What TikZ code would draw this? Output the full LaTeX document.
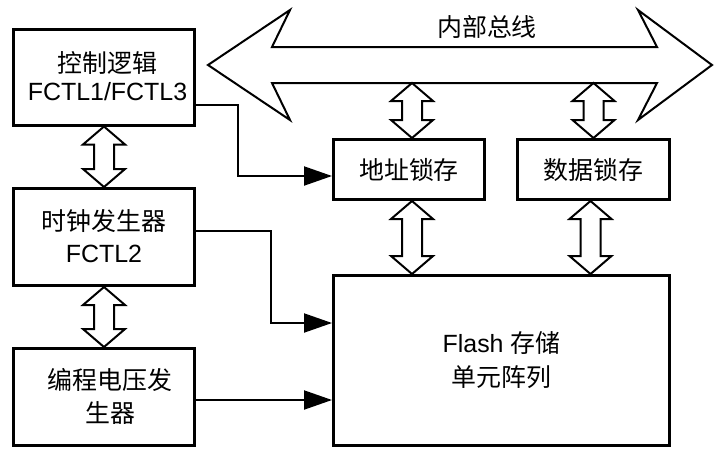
\documentclass[tikz,border=0pt]{standalone}
\usepackage{fontspec}
\setmainfont{Liberation Sans}
\newfontfamily\cjk{Noto Sans CJK SC}
\usetikzlibrary{arrows.meta,calc}
\newcommand\fixln[1]{\raisebox{0pt}[15pt][1pt]{#1}}
\tikzset{
  box/.style={draw, line width=2.25pt, inner sep=0pt, align=center},
  dbl/.style={draw, line width=1.5pt, fill=white, line join=miter},
  conn/.style={line width=1.5pt, -{Triangle[length=21pt,width=14.25pt]}},
  bus/.style={draw, line width=1.5pt, line join=miter, fill=white},
}
\newcommand\vdblarrow[2]{%
  \draw[dbl] let \p1=(#1), \p2=(#2) in
    (\x1,\y1) -- (\x1+15.75pt,\y1-13.5pt) -- (\x1+7.5pt,\y1-13.5pt)
    -- (\x1+7.5pt,\y2+13.5pt) -- (\x1+15.75pt,\y2+13.5pt) -- (\x1,\y2)
    -- (\x1-15.75pt,\y2+13.5pt) -- (\x1-7.5pt,\y2+13.5pt)
    -- (\x1-7.5pt,\y1-13.5pt) -- (\x1-15.75pt,\y1-13.5pt) -- cycle;}
\begin{document}
\begin{tikzpicture}[x=0.75pt,y=-0.75pt]
\useasboundingbox[fill=white] (0,0) rectangle (714,450);

% internal bus
\draw[bus] (208,65) -- (290,10) -- (272,47) -- (657,47) -- (638,10) -- (712,65)
  -- (638,120) -- (657,83) -- (272,83) -- (290,120) -- cycle;
\coordinate (busb) at (400,83);
\node[font=\fontsize{18.7pt}{22pt}\selectfont\cjk] (buslabel) at (487,27) {内部总线};

% boxes
\node[box, minimum width=136.1pt, minimum height=72pt,
      font=\fontsize{18.7pt}{21.4pt}\selectfont] (c1) at (104,77)
      {\fixln{\hspace*{5.25pt}\cjk 控制逻辑}\\\fixln{\hspace*{5.25pt}FCTL1/FCTL3}};
\node[box, minimum width=136.1pt, minimum height=72.75pt,
      font=\fontsize{18.7pt}{24pt}\selectfont] (c2) at (104,237)
      {\fixln{\cjk 时钟发生器}\\\fixln{FCTL2}};
\node[box, minimum width=136.1pt, minimum height=72.75pt,
      font=\fontsize{18.7pt}{24.75pt}\selectfont] (c3) at (104,397)
      {\fixln{\hspace*{9pt}\cjk 编程电压发}\\\fixln{\hspace*{9pt}\cjk 生器}};
\node[box, minimum width=113.25pt, minimum height=45pt,
      font=\fontsize{18.7pt}{22pt}\selectfont\cjk] (addr) at (409,169.5) {地址锁存};
\node[box, minimum width=114pt, minimum height=45pt,
      font=\fontsize{18.7pt}{22pt}\selectfont\cjk] (data) at (593.5,169.5) {数据锁存};
\node[box, minimum width=252pt, minimum height=127.5pt,
      font=\fontsize{18.7pt}{25.5pt}\selectfont] (flash) at (501.5,360.5)
      {\fixln{Flash {\cjk 存储}}\\\fixln{\cjk 单元阵列}};

% double arrows
\vdblarrow{c1.south}{c2.north}
\vdblarrow{c2.south}{c3.north}
\coordinate (a1t) at ($(addr.north |- busb)+(3,0)$);
\coordinate (d1t) at ($(data.north |- busb)$);
\coordinate (a2t) at ($(addr.south)+(3,0)$);
\coordinate (d2t) at ($(data.south)+(-3,0)$);
\vdblarrow{a1t}{addr.north}
\vdblarrow{d1t}{data.north}
\vdblarrow{a2t}{flash.north}
\vdblarrow{d2t}{flash.north}

% connectors
\draw[conn] ($(c1.east)+(0,28)$) -- ++(42,0) |- ($(addr.west)+(0,6.5)$);
\draw[conn] ($(c2.east)+(0,-6)$) -- ++(75,0) |- ($(flash.west)+(0,-37.5)$);
\draw[conn] ($(c3.east)+(0,3)$) -- ($(flash.west |- c3.east)+(0,3)$);
\end{tikzpicture}
\end{document}
